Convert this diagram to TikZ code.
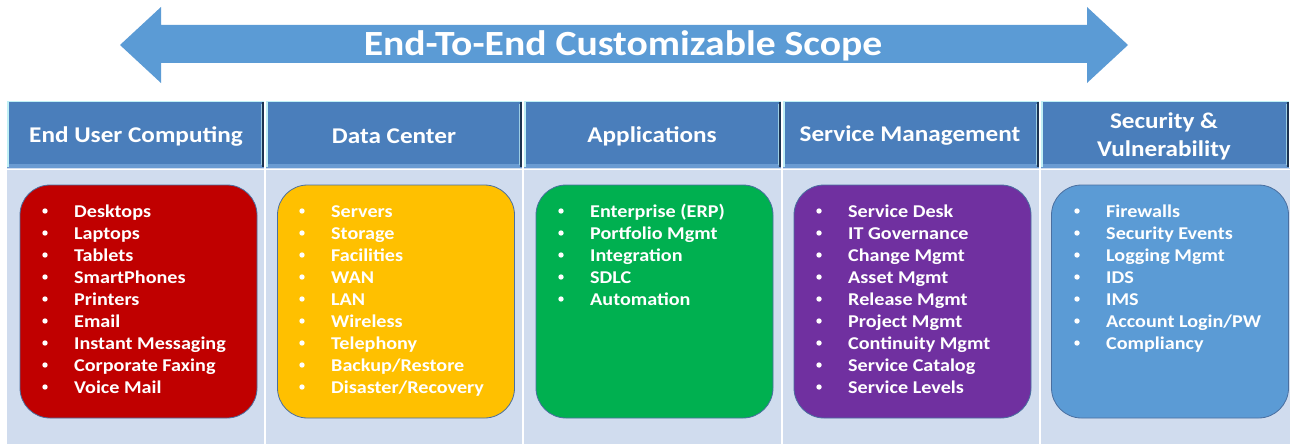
\documentclass[tikz,border=0pt]{standalone}
\usepackage{fontspec}
\setmainfont{Carlito}[FakeStretch=1.12]
\definecolor{arrowblue}{HTML}{5B9BD5}
\definecolor{hdrblue}{HTML}{4A7EBB}
\definecolor{hdrlight}{HTML}{BFEFF5}
\definecolor{hdrdark}{HTML}{1C3350}
\definecolor{hdrbottom}{HTML}{6A9BD2}
\definecolor{bodybg}{HTML}{D0DCEE}
\definecolor{boxline}{HTML}{4A6FA0}
\definecolor{cRed}{HTML}{C00000}
\definecolor{cYellow}{HTML}{FFC000}
\definecolor{cGreen}{HTML}{00B050}
\definecolor{cPurple}{HTML}{7030A0}
\definecolor{cBlue}{HTML}{5B9BD5}
\tikzset{
  titletext/.style={text=white, font=\bfseries\fontsize{35.4}{40}\selectfont, inner sep=0pt, anchor=base},
  hdrtext/.style={text=white, font=\bfseries\fontsize{22.5}{27}\selectfont, inner sep=0pt, align=center},
  itembox/.style={draw=boxline, line width=0.8pt, rounded corners=30pt, minimum width=237pt, minimum height=233pt, inner sep=0pt},
  itemtext/.style={text=white, font=\bfseries\fontsize{18}{22}\selectfont, inner sep=0pt, anchor=base west},
  bul/.style={circle, fill=white, inner sep=0pt, minimum size=5.4pt}
}
\begin{document}
\begin{tikzpicture}[x=1pt,y=-1pt]
\useasboundingbox (0,0) rectangle (1290,444);
\fill[white] (0,0) rectangle (1290,444);
% big double arrow
\fill[arrowblue] (120,45) -- (161,7) -- (161,25) -- (1087,25) -- (1087,7) -- (1128,45)
  -- (1087,83) -- (1087,63) -- (161,63) -- (161,83) -- cycle;
\node[titletext] (ttl) at (623,56) {End-To-End Customizable Scope};
% body background
\fill[bodybg] (7,168) rectangle (1290,444);
\draw[white, line width=1.2pt] (7,169.5) -- (1290,169.5);
\foreach \x in {265,523,782,1040}{
  \draw[white, line width=1.5pt] (\x,168) -- (\x,444);
}
% header cells
\foreach \a/\b in {7/264, 266/522, 524/781, 783/1039, 1041/1289}{
  \fill[hdrblue] (\a,101) rectangle (\b,168);
  \fill[hdrbottom] (\a,164) rectangle (\b,168);
  \draw[hdrlight, line width=1pt] (\a,101.5) -- (\b,101.5);
  \draw[hdrlight, line width=2pt] (\a+1,102) -- (\a+1,167);
  \draw[hdrdark, line width=2pt] (\b-1,102) -- (\b-1,167);
  \draw[hdrlight!70!hdrblue, line width=1pt] (\b-3,104) -- (\b-3,165);
}
\node[hdrtext] (h1) at (136,136) {End User Computing};
\node[hdrtext] (h2) at (394,136) {Data Center};
\node[hdrtext] (h3) at (652,136) {Applications};
\node[hdrtext] (h4) at (910,136) {Service Management};
\node[hdrtext, font=\bfseries\fontsize{22.5}{28}\selectfont] (h5) at (1164,136) {Security \&\\Vulnerability};
% item boxes
\node[itembox, fill=cRed] (b1) at (138.5,301.5) {};
\node[itembox, fill=cYellow] (b2) at (396,301.5) {};
\node[itembox, fill=cGreen] (b3) at (654.5,301.5) {};
\node[itembox, fill=cPurple] (b4) at (912.5,301.5) {};
\node[itembox, fill=cBlue] (b5) at (1170,301.5) {};
% items
\foreach \t [count=\i from 0] in {Desktops,Laptops,Tablets,SmartPhones,Printers,Email,Instant Messaging,Corporate Faxing,Voice Mail}{
  \node[bul] (r\i) at (45,211+22*\i) {};
  \node[itemtext] (rt\i) at (74,217+22*\i) {\t};
}
\foreach \t [count=\i from 0] in {Servers,Storage,Facilities,WAN,LAN,Wireless,Telephony,Backup/Restore,Disaster/Recovery}{
  \node[bul] (y\i) at (302,211+22*\i) {};
  \node[itemtext] (yt\i) at (331,217+22*\i) {\t};
}
\foreach \t [count=\i from 0] in {Enterprise (ERP),Portfolio Mgmt,Integration,SDLC,Automation}{
  \node[bul] (g\i) at (561,211+22*\i) {};
  \node[itemtext] (gt\i) at (590,217+22*\i) {\t};
}
\foreach \t [count=\i from 0] in {Service Desk,IT Governance,Change Mgmt,Asset Mgmt,Release Mgmt,Project Mgmt,Continuity Mgmt,Service Catalog,Service Levels}{
  \node[bul] (p\i) at (819,211+22*\i) {};
  \node[itemtext] (pt\i) at (848,217+22*\i) {\t};
}
\foreach \t [count=\i from 0] in {Firewalls,Security Events,Logging Mgmt,IDS,IMS,Account Login/PW,Compliancy}{
  \node[bul] (s\i) at (1077,211+22*\i) {};
  \node[itemtext] (st\i) at (1106,217+22*\i) {\t};
}
\end{tikzpicture}
\end{document}
